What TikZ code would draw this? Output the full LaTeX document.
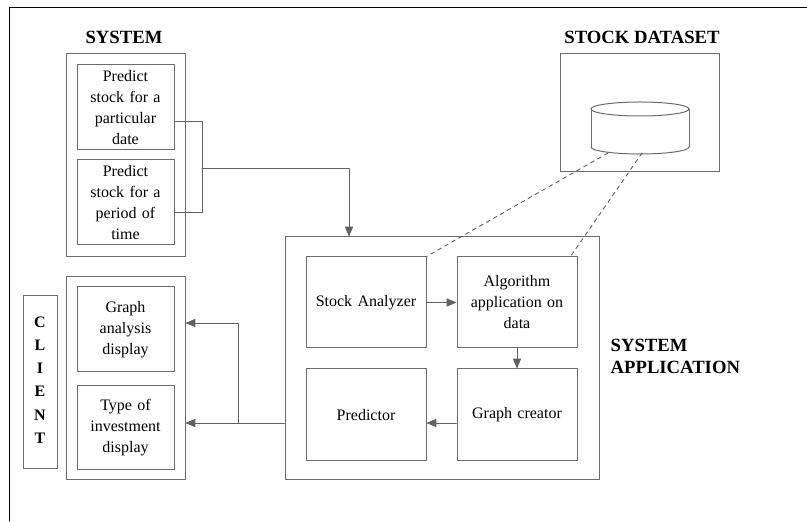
\documentclass[tikz,border=0pt]{standalone}
\usepackage{fontspec}
\setmainfont{Liberation Serif}
\usepackage{tikz}
\usetikzlibrary{arrows}
\definecolor{bxgray}{rgb}{0.42,0.42,0.42}
\definecolor{lngray}{rgb}{0.38,0.38,0.38}
\tikzset{
  box/.style={draw=bxgray,line width=0.75pt,inner sep=2pt,align=center,text width=64pt,font=\fontsize{12}{15.75}\selectfont},
  frame/.style={draw=bxgray,line width=0.75pt},
  title/.style={font=\bfseries\fontsize{14}{16.5}\selectfont,align=left},
  link/.style={color=lngray,line width=0.7pt},
}
\begin{document}
\begin{tikzpicture}[line cap=round,line join=round,>=triangle 45,x=0.75pt,y=-0.75pt]
\useasboundingbox (0,0) rectangle (807,523);
% page frame
\draw[line width=0.75pt] (9,521) -- (9,8) -- (807,8);

% system
\node[title] (systitle) at (124,37) {SYSTEM};
\node[frame,minimum width=89.25pt,minimum height=152.25pt] (sys) at (125.5,155.5) {};
\node[box,minimum width=72.75pt,minimum height=63.75pt] (date) at (125.5,107.5) {Predict\\stock for a\\particular\\date};
\node[box,minimum width=72.75pt,minimum height=63.75pt] (period) at (125.5,202.5) {Predict\\stock for a\\period of\\time};

% stock dataset
\node[title] (dstitle) at (642,37) {STOCK DATASET};
\node[frame,minimum width=119.25pt,minimum height=88.5pt] (ds) at (639.5,113) {};
\draw[frame] (591,147) -- (591,109);
\draw[frame] (689,147) -- (689,109);
\draw[frame] (640,109) ellipse [x radius=36.75pt,y radius=5.25pt];
\draw[frame] (591,147) arc [start angle=180,end angle=360,x radius=36.75pt,y radius=5.25pt];
\coordinate (dbA) at (608,153);
\coordinate (dbB) at (642,153);

% system application
\node[frame,minimum width=235.5pt,minimum height=182.25pt] (app) at (442,358.5) {};
\node[box,text width=84pt,minimum width=90pt,minimum height=68.25pt] (ana) at (366,302.5) {Stock Analyzer};
\node[box,text width=84pt,minimum width=90pt,minimum height=68.25pt] (alg) at (517,302.5) {Algorithm\\application on\\data};
\node[box,text width=84pt,minimum width=90pt,minimum height=69pt] (pred) at (366,415) {Predictor};
\node[box,text width=84pt,minimum width=90pt,minimum height=69pt] (gc) at (517,415) {Graph creator};
\node[title,anchor=north west] (apptitle) at (606,334) {SYSTEM\\APPLICATION};

% client
\node[frame,minimum width=25.5pt,minimum height=129.75pt] (clbox) at (40,382.5) {};
\node[font=\bfseries\fontsize{12}{17.4}\selectfont,align=center] (cltitle) at (40,380) {C\\L\\I\\E\\N\\T};
\node[frame,minimum width=89.25pt,minimum height=152.25pt] (client) at (125.5,378.5) {};
\node[box,minimum width=72.75pt,minimum height=63.75pt] (graph) at (125.5,329.5) {Graph\\analysis\\display};
\node[box,minimum width=72.75pt,minimum height=63pt] (inv) at (125.5,428) {Type of\\investment\\display};

% connectors
\draw[link] (date.east |- 0,121) -- (202,121) -- (202,212) -- (period.east |- 0,212);
\coordinate (brk) at (202,168);
\draw[link,->] (brk) -| (app.north -| 349,0);
\draw[link,->] (ana.east) -- (alg.west);
\draw[link,->] (alg.south) -- (gc.north);
\draw[link,->] (gc.west |- 0,423) -- (pred.east |- 0,423);
\draw[link,->] (app.west |- 0,423) -- (client.east |- 0,423);
\coordinate (split) at (238,423);
\draw[link,->] (split) |- (client.east |- 0,323);
\draw[link,dashed] (dbA) -- (ana.north east);
\draw[link,dashed] (dbB) -- ([xshift=-5.25pt]alg.north east);
\end{tikzpicture}
\end{document}
